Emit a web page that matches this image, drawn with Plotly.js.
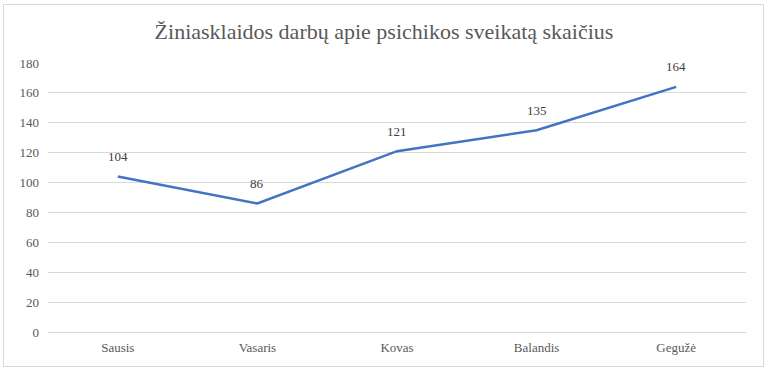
<!DOCTYPE html>
<html>
<head>
<meta charset="utf-8">
<script src="https://cdn.plot.ly/plotly-3.0.1.min.js"></script>
<style>
html,body{margin:0;padding:0;background:#fff;}
#wrap{position:relative;width:768px;height:373px;}
#chart{width:768px;height:373px;}
#frame{position:absolute;left:3px;top:4px;width:761px;height:363px;border:1px solid #d9d9d9;pointer-events:none;box-sizing:border-box;}
#preload{position:absolute;left:0;top:0;font-family:'Liberation Serif';font-size:13px;color:rgba(255,255,255,0);pointer-events:none;}
</style>
</head>
<body>
<div id="preload">Ž ų ą č ž ė 0123456789 abc</div>
<div id="wrap"><div id="chart"></div><div id="frame"></div></div>
<script>
const months = ["Sausis", "Vasaris", "Kovas", "Balandis", "Gegužė"];
const counts = [104, 86, 121, 135, 164];
const titleText = "Žiniasklaidos darbų apie psichikos sveikatą skaičius";

const SERIF = "Liberation Serif";

const trace = {
  x: months,
  y: counts,
  type: "scatter",
  mode: "lines",
  line: {color: "#4472C4", width: 2.5},
  cliponaxis: false,
  hoverinfo: "x+y"
};

const annotations = months.map((m, i) => ({
  x: m, y: counts[i], xref: "x", yref: "y",
  text: String(counts[i]), showarrow: false,
  yshift: 20,
  font: {family: SERIF, size: 13, color: "#404040"}
}));

const layout = {
  width: 768,
  height: 373,
  margin: {l: 48, r: 22, t: 63, b: 41},
  paper_bgcolor: "#ffffff",
  plot_bgcolor: "#ffffff",
  showlegend: false,
  title: {
    text: titleText,
    font: {family: SERIF, size: 22, color: "#595959"},
    x: 0.5, xanchor: "center", y: 0.915, yanchor: "middle"
  },
  annotations: annotations,
  xaxis: {
    type: "category",
    range: [-0.5, 4.5],
    showgrid: false,
    zeroline: false,
    showline: false,
    ticks: "",
    tickfont: {family: SERIF, size: 13, color: "#595959"},
    ticklabelstandoff: 6
  },
  yaxis: {
    range: [0, 180],
    dtick: 20,
    showgrid: true,
    gridcolor: "#d9d9d9",
    gridwidth: 1,
    zeroline: true,
    zerolinecolor: "#d9d9d9",
    zerolinewidth: 1,
    showline: false,
    ticks: "",
    tickfont: {family: SERIF, size: 13, color: "#595959"},
    ticklabelstandoff: 8
  }
};

Plotly.newPlot("chart", [trace], layout, {displayModeBar: false});
</script>
</body>
</html>
